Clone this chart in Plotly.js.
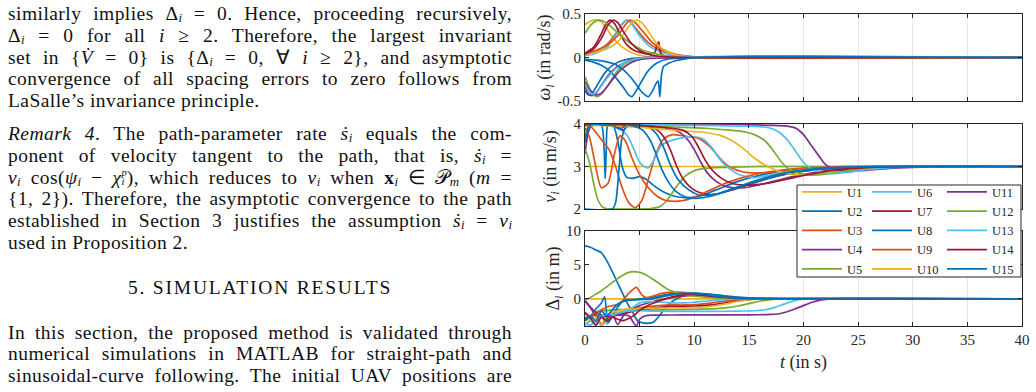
<!DOCTYPE html>
<html><head><meta charset="utf-8">
<script src="https://cdn.plot.ly/plotly-3.0.1.min.js"></script>
<style>
html,body{margin:0;padding:0;background:#fff;width:1036px;height:392px;overflow:hidden;}
#text{position:absolute;left:0;top:0;width:522px;height:392px;font-family:'Liberation Serif','Times New Roman',serif;font-size:19.5px;letter-spacing:0.45px;color:#111;}
.ln{position:absolute;left:8px;width:504px;height:21px;line-height:21px;white-space:nowrap;overflow:visible;}
.j{text-align:justify;text-align-last:justify;white-space:normal;}
.c{text-align:center;letter-spacing:1.8px;}
sub{font-size:66%;vertical-align:-0.18em;line-height:0;letter-spacing:0;}
.ss{display:inline-flex;flex-direction:column;vertical-align:8px;font-size:10.5px;line-height:9px;letter-spacing:0;}
.ss span{display:block;height:9px;}
#chart{position:absolute;left:530px;top:0;width:506px;height:392px;}
</style></head><body>
<div id="text">
<div class="ln j" style="top:3px">similarly implies Δ<sub><i>i</i></sub> = 0. Hence, proceeding recursively,</div>
<div class="ln j" style="top:25px">Δ<sub><i>i</i></sub> = 0 for all <i>i</i> ≥ 2. Therefore, the largest invariant</div>
<div class="ln j" style="top:47px">set in {<i>V&#775;</i> = 0} is {Δ<sub><i>i</i></sub> = 0, ∀ <i>i</i> ≥ 2}, and asymptotic</div>
<div class="ln j" style="top:68px">convergence of all spacing errors to zero follows from</div>
<div class="ln" style="top:90px">LaSalle’s invariance principle.</div>

<div class="ln j" style="top:123px"><i>Remark 4</i>. The path-parameter rate <i>ṡ</i><sub><i>i</i></sub> equals the com-</div>
<div class="ln j" style="top:145px">ponent of velocity tangent to the path, that is, <i>ṡ</i><sub><i>i</i></sub> =</div>
<div class="ln j" style="top:167px"><i>v</i><sub><i>i</i></sub> cos(<i>ψ</i><sub><i>i</i></sub> − <i>χ</i><span class="ss"><span><i>p</i></span><span><i>i</i></span></span>), which reduces to <i>v</i><sub><i>i</i></sub> when <b>x</b><sub><i>i</i></sub> ∈ 𝒫<sub><i>m</i></sub> (<i>m</i> =</div>
<div class="ln j" style="top:188px">{1, 2}). Therefore, the asymptotic convergence to the path</div>
<div class="ln j" style="top:210px">established in Section 3 justifies the assumption <i>ṡ</i><sub><i>i</i></sub> = <i>v</i><sub><i>i</i></sub></div>
<div class="ln" style="top:232px">used in Proposition 2.</div>

<div class="ln c" style="top:277px">5. SIMULATION RESULTS</div>

<div class="ln j" style="top:322px">In this section, the proposed method is validated through</div>
<div class="ln j" style="top:343px">numerical simulations in MATLAB for straight-path and</div>
<div class="ln j" style="top:365px">sinusoidal-curve following. The initial UAV positions are</div>
</div>
<div id="chart"></div>
<script>
// ---------- tick labels ----------
const xTickVals = [0,5,10,15,20,25,30,35,40];
const xTickText = ['0','5','10','15','20','25','30','35','40'];
const wTickVals = [-0.5,0,0.5];
const wTickText = ['-0.5','0','0.5'];
const vTickVals = [2,3,4];
const vTickText = ['2','3','4'];
const dTickVals = [0,5,10];
const dTickText = ['0','5','10'];

// ---------- units ----------
const unitNames = ['U1','U2','U3','U4','U5','U6','U7','U8','U9','U10','U11','U12','U13','U14','U15'];
const unitColors = ['#EDB120','#0072BD','#D95319','#7E2F8E','#77AC30','#4DBEEE','#A2142F',
                    '#0072BD','#D95319','#EDB120','#7E2F8E','#77AC30','#4DBEEE','#A2142F','#0072BD'];

// ---------- omega_i (rad/s) ----------
const tW1=[0,0.4,0.8,1.1,1.5,2,2.6,3.3,4.2,5.2,6.5,40];
const w1=[0.38,0.41,0.43,0.43,0.41,0.33,0.22,0.13,0.06,0.02,0,0];
const tW2=[0,0.3,0.7,1.2,1.8,2.5,3.3,4.3,5.5,40];
const w2=[-0.38,-0.43,-0.40,-0.30,-0.18,-0.09,-0.04,-0.01,0,0];
const tW3=[0,1,2,2.8,3.4,3.8,4.3,5,5.8,6.8,8,9.5,40];
const w3=[0.03,0.07,0.15,0.27,0.38,0.43,0.39,0.28,0.17,0.09,0.04,0.01,0];
const tW4=[0,0.3,0.6,1.0,1.5,2.1,2.8,3.6,4.5,5.5,40];
const w4=[-0.33,-0.42,-0.44,-0.41,-0.32,-0.21,-0.12,-0.06,-0.02,0,0];
const tW5=[0,0.4,0.8,1.1,1.5,2,2.6,3.2,4,5,6,40];
const w5=[-0.22,-0.35,-0.43,-0.45,-0.42,-0.34,-0.22,-0.12,-0.05,-0.02,0,0];
const tW6=[0,1,2,2.8,3.3,3.8,4.3,5,5.8,6.8,8,9.5,40];
const w6=[0.02,0.05,0.12,0.25,0.37,0.43,0.38,0.25,0.14,0.07,0.03,0.01,0];
const tW7=[0,0.8,1.4,1.9,2.3,2.7,3.2,3.8,4.5,5.3,6.0,6.4,6.6,6.75,6.9,7.2,8,40];
const w7=[0.05,0.12,0.25,0.38,0.43,0.39,0.27,0.15,0.08,0.05,0.04,0.06,0.15,0.18,0.06,0.02,0.01,0];
const tW8=[0,0.7,1.5,2.3,3,3.6,4.0,4.3,4.7,5.2,5.8,6.5,7.5,40];
const w8=[-0.03,-0.05,-0.09,-0.16,-0.26,-0.36,-0.43,-0.45,-0.38,-0.27,-0.15,-0.07,-0.02,0];
const tW9=[0,1,2,3,3.6,4.1,4.6,5.3,6.1,7,8.2,9.8,40];
const w9=[0.04,0.08,0.14,0.25,0.36,0.43,0.40,0.30,0.18,0.10,0.04,0.01,0];
const tW10=[0,1,2,3,3.7,4.3,4.7,5.2,5.8,6.5,7.3,8.3,9.5,40];
const w10=[0.03,0.06,0.10,0.18,0.30,0.40,0.43,0.40,0.30,0.17,0.08,0.03,0.01,0];
const tW11=[0,0.5,1.0,1.5,2.0,2.6,3.3,4.2,5.2,40];
const w11=[-0.28,-0.38,-0.43,-0.41,-0.34,-0.24,-0.14,-0.06,-0.02,0];
const tW12=[0,0.5,1.0,1.3,1.8,2.5,3.3,4.2,5.2,6.2,7.5,9,40];
const w12=[0.28,0.37,0.42,0.43,0.41,0.34,0.25,0.16,0.09,0.05,0.02,0.01,0];
const tW13=[0,0.4,0.8,1.3,2,2.8,3.6,4.5,5.5,40];
const w13=[-0.30,-0.40,-0.42,-0.36,-0.24,-0.13,-0.06,-0.02,0,0];
const tW14=[0,0.8,1.5,2.1,2.6,3.0,3.5,4.2,5,6,7,40];
const w14=[0.04,0.10,0.22,0.37,0.43,0.40,0.30,0.17,0.08,0.03,0.01,0];
const tW15=[0,1,2,2.8,3.5,4.2,4.8,5.3,5.8,6.2,6.5,6.7,6.85,7.0,7.2,7.6,8.2,9,10,40];
const w15=[-0.02,-0.03,-0.05,-0.08,-0.14,-0.23,-0.33,-0.41,-0.45,-0.38,-0.30,-0.27,-0.45,-0.20,-0.10,-0.07,-0.04,-0.02,0,0];

// ---------- v_i (m/s) ----------
const tV1=[0,40];
const v1=[3,3];
const tV2=[0,0.3,0.8,1.5,1.75,1.85,1.95,2.1,2.6,3.0,3.4,3.8,4.3,5.0,5.6,6.3,7.2,8.2,9.2,10.5,12,14,16.5,19,22,40];
const v2=[3.6,3.95,4,3.97,3.4,2.72,3.4,3.97,3.95,3.6,3.0,2.75,2.72,2.76,2.7,2.55,2.4,2.3,2.27,2.3,2.45,2.65,2.82,2.93,2.99,3];
const tV3=[0,0.5,1,1.6,2.2,2.8,3.4,4.0,4.6,5.2,5.8,6.5,7.2,8,9,10.5,11.5,12.5,13.3,14.5,16,18.5,21,24,40];
const v3=[4,3.95,3.8,3.6,3.4,3.0,2.5,2.15,2.03,2.2,2.7,3.3,3.65,3.75,3.72,3.65,3.45,3.15,2.98,2.87,2.85,2.9,2.96,2.99,3];
const tV4=[0,0.3,0.6,1,2,3,4,5,6,7,8,8.8,9.5,10.1,10.6,11.2,12,13,14.5,16.5,19,22,26,40];
const v4=[3.3,3.8,3.97,4,4,3.99,3.98,3.97,3.95,3.92,3.87,3.78,3.6,3.35,3.1,2.85,2.65,2.52,2.5,2.6,2.76,2.9,2.98,3];
const tV5=[0,0.4,0.8,1.2,1.7,2.5,4,6,6.8,7.5,8.3,9.2,10.2,11.5,13,16,40];
const v5=[3.42,3.1,2.6,2.2,2.03,2,2,2.01,2.05,2.2,2.5,2.78,2.92,2.97,2.98,3,3];
const tV6=[0,1,2,3,3.8,4.4,5,5.5,5.8,6.2,7,8,9,10,10.8,11.6,12.4,13.2,14.2,15.5,17,19,22,40];
const v6=[3.95,3.97,3.96,3.9,3.75,3.45,3.1,2.98,2.97,3.1,3.5,3.62,3.68,3.7,3.65,3.45,3.15,2.95,2.8,2.74,2.8,2.9,2.98,3];
const tV7=[0,0.5,1.5,2.5,3.2,3.5,3.8,4.5,5.5,6.5,7.2,7.8,8.4,9.0,9.8,10.8,12,13.5,15.5,18,21,25,40];
const v7=[3.95,4,4,3.98,3.9,3.85,3.93,3.97,3.95,3.88,3.7,3.4,3.0,2.7,2.48,2.36,2.35,2.45,2.62,2.8,2.92,2.99,3];
const tV8=[0,2.5,2.8,3.1,3.4,3.8,4.5,5.3,6.0,6.6,7.2,7.8,8.5,9.5,10.5,12,14,16.5,19.5,23,40];
const v8=[2,2,2.15,2.9,3.7,3.95,3.97,3.95,3.9,3.75,3.45,3.05,2.7,2.45,2.33,2.35,2.5,2.7,2.87,2.97,3];
const tV9=[0,0.4,0.9,1.5,2.1,2.7,3.2,3.7,4.3,5,5.8,6.6,7.4,8.2,9,10,11.5,13,15,17,20,24,40];
const v9=[3.9,3.7,3.1,2.5,2.6,3.3,3.72,3.6,3.2,2.8,2.5,2.3,2.2,2.18,2.2,2.28,2.45,2.62,2.78,2.88,2.96,3,3];
const tV10=[0,1,3,5,7,9,11,12.5,13.5,14.5,15.5,16.3,17,17.8,18.8,20,22,24.5,27,40];
const v10=[3.95,3.97,3.95,3.92,3.88,3.84,3.8,3.72,3.6,3.42,3.2,3.06,2.97,2.88,2.82,2.8,2.85,2.93,2.98,3];
const tV11=[0,1,3,6,10,14,17,18.5,19.3,20,20.7,21.4,22,22.6,23.5,25,27,30,40];
const v11=[3.97,4,4,4,4,3.99,3.97,3.95,3.9,3.75,3.5,3.25,3.05,2.95,2.9,2.9,2.94,2.98,3];
const tV12=[0,1,3,5,7,9,11,13,14.5,15.5,16.5,17.3,18,18.6,19.5,20.5,22,24,27,40];
const v12=[3.98,4,3.98,3.96,3.94,3.92,3.9,3.86,3.82,3.75,3.6,3.35,3.1,2.95,2.85,2.8,2.82,2.9,2.98,3];
const tV13=[0,1,3,6,9,12,14,16,17,17.8,18.6,19.3,20,20.7,21.5,22.5,24,26,29,40];
const v13=[3.97,4,3.99,3.98,3.97,3.96,3.95,3.94,3.9,3.8,3.6,3.35,3.1,2.95,2.87,2.83,2.86,2.93,2.99,3];
const tV14=[0,1,2,3,4,5,6,7,8,9,9.8,10.4,11,11.7,12.5,13.5,15,17,19.5,22.5,26,40];
const v14=[3.97,4,4,3.99,3.98,3.97,3.95,3.93,3.9,3.85,3.7,3.45,3.15,2.9,2.72,2.6,2.56,2.62,2.76,2.9,2.98,3];
const tV15=[0,0.3,0.7,1.5,2.5,3.2,3.5,3.8,4.5,5.3,6.0,6.5,7.0,7.6,8.3,9.2,10.2,11.5,13.5,16,19,23,40];
const v15=[3.55,3.9,4,3.98,3.97,3.88,3.93,3.97,3.95,3.85,3.6,3.3,2.95,2.65,2.42,2.28,2.25,2.3,2.48,2.7,2.88,2.98,3];

// ---------- Delta_i (m) ----------
const tD1=[0,40];
const d1=[0,0];
const tD2=[0,0.5,1,1.5,2,2.5,3,3.5,4,4.4,4.8,5.2,5.7,6.3,6.8,7.3,7.8,8.5,9.3,10.2,11.5,13,15,18,40];
const d2=[7.8,7.6,7.2,6.8,5.6,4.0,2.3,0.6,-1.0,-2.1,-3.2,-3.5,-3.6,-3.4,-2.5,-1.4,-0.6,0.1,0.6,0.8,0.7,0.4,0.15,0,0];
const tD3=[0,0.5,1,1.5,2,2.5,3,3.5,4,5,6,7,8,9,10,11,12,13,14,15,40];
const d3=[-2.2,-2.6,-2.0,-2.4,-2.9,-2.3,-2.1,-1.9,-1.7,-1.35,-1.1,-0.95,-0.9,-0.9,-0.85,-0.7,-0.5,-0.3,-0.1,0,0];
const tD4=[0,0.5,1,1.5,2,2.5,3,3.5,4,5,6,7,8,9,10,11,12,13,14,40];
const d4=[-0.3,-1.3,-2.6,-3.9,-2.9,-2.3,-3.8,-2.5,-1.8,-1.0,-0.5,-0.1,0.2,0.4,0.5,0.45,0.3,0.1,0,0];
const tD5=[0,0.5,1,1.5,2,2.5,3,4,5,6,8,10,12,13,14,15,16,17,18,40];
const d5=[-3.2,-2.5,-2.0,-1.8,-1.7,-1.65,-1.6,-1.55,-1.6,-1.62,-1.6,-1.55,-1.45,-1.3,-1.05,-0.7,-0.35,-0.1,0,0];
const tD6=[0,0.5,1,1.5,2,2.5,3,3.5,4,4.5,5,6,7,8,9,10,11,12,13,14,40];
const d6=[-3.6,-3.9,-3.0,-2.6,-3.7,-2.5,-2.2,-2.0,-1.6,-1.1,-0.6,-0.4,-0.5,-0.6,-0.6,-0.5,-0.35,-0.2,-0.08,0,0];
const tD7=[0,0.5,1,1.5,2,2.5,3,3.5,4,5,6,7,8,9,10,11,12,13,14,15,16,40];
const d7=[-3.2,-2.6,-2.3,-3.8,-2.8,-2.4,-2.3,-2.2,-2.0,-1.6,-1.4,-1.2,-1.1,-1.1,-1.05,-0.95,-0.8,-0.55,-0.3,-0.1,0,0];
const tD8=[0,0.5,1,1.5,1.8,2.1,2.5,3,3.5,4,4.5,5,6,7,8,9,10,11,12,13.5,15,40];
const d8=[-3.2,-2.6,-1.5,-0.6,0.3,-3.5,-2.6,-1.2,-0.3,-0.1,-0.1,0.0,0.2,0.5,0.8,0.9,0.85,0.6,0.35,0.1,0.02,0];
const tD9=[0,0.5,1,1.5,2,2.5,3,3.5,4,4.7,5.2,5.6,6.2,7,8,9,10,11,12.5,14,16,40];
const d9=[-2.8,-2.5,-2.0,-1.6,-1.2,-1.0,-0.8,-0.2,0.8,1.7,0.6,0.2,0.4,0.8,1.0,0.95,0.75,0.5,0.25,0.1,0.02,0];
const tD10=[0,0.5,1,1.5,2,2.5,3,3.5,4,5,6,8,10,11,12,13,14,15,16,40];
const d10=[-3.8,-3.0,-2.6,-3.9,-2.4,-2.0,-1.8,-1.6,-1.5,-1.45,-1.4,-1.35,-1.3,-1.2,-1.0,-0.7,-0.35,-0.1,0,0];
const tD11=[0,0.5,1,1.5,2,2.5,3,3.5,4,4.4,4.7,5,5.5,6.5,8,10,12,14,16,17,17.8,18.5,19.2,20,20.8,21.6,22.5,40];
const d11=[-0.3,-1.2,-2.0,-2.4,-2.6,-2.5,-2.4,-2.35,-2.5,-3.4,-4.0,-3.0,-2.5,-2.4,-2.38,-2.37,-2.36,-2.35,-2.34,-2.3,-2.2,-1.9,-1.5,-1.0,-0.5,-0.15,0,0];
const tD12=[0,0.5,1,1.5,2,2.5,3,3.5,4,4.5,5,5.5,6,6.5,7,7.5,8,8.5,9,10,11,12.5,14,40];
const d12=[-0.2,0.2,0.7,1.2,1.8,2.4,3.0,3.5,3.9,4.0,3.9,3.6,3.1,2.6,2.0,1.5,1.1,0.8,0.6,0.4,0.25,0.1,0.02,0];
const tD13=[0,0.5,1,1.5,2,2.5,3,3.5,4,5,6,8,10,12,14,15.5,16.5,17.3,18,18.8,19.6,20.5,40];
const d13=[-3.9,-3.3,-3.6,-2.6,-2.2,-2.4,-2.1,-1.9,-1.8,-1.75,-1.8,-1.85,-1.85,-1.85,-1.8,-1.75,-1.6,-1.3,-0.9,-0.45,-0.12,0,0];
const tD14=[0,0.5,1,1.5,2,2.5,3,3.5,4,4.5,5,6,7,8,9,10,11,12.5,14,16,40];
const d14=[-2.0,-2.8,-3.9,-2.7,-3.3,-2.7,-3.0,-3.2,-2.9,-2.4,-1.7,-0.8,-0.2,0.3,0.6,0.65,0.5,0.25,0.1,0.02,0];
const tD15=[0,0.5,1,1.5,2,2.5,3,3.5,4,5,6,7,8,9,10,11,12,14,40];
const d15=[-3.0,-2.5,-3.3,-1.8,-2.5,-1.6,-0.8,-0.4,-0.2,-0.1,-0.05,0.3,0.6,0.8,0.8,0.65,0.4,0.1,0];

const omegaT=[tW1,tW2,tW3,tW4,tW5,tW6,tW7,tW8,tW9,tW10,tW11,tW12,tW13,tW14,tW15];
const omegaY=[w1,w2,w3,w4,w5,w6,w7,w8,w9,w10,w11,w12,w13,w14,w15];
const speedT=[tV1,tV2,tV3,tV4,tV5,tV6,tV7,tV8,tV9,tV10,tV11,tV12,tV13,tV14,tV15];
const speedY=[v1,v2,v3,v4,v5,v6,v7,v8,v9,v10,v11,v12,v13,v14,v15];
const deltaT=[tD1,tD2,tD3,tD4,tD5,tD6,tD7,tD8,tD9,tD10,tD11,tD12,tD13,tD14,tD15];
const deltaY=[d1,d2,d3,d4,d5,d6,d7,d8,d9,d10,d11,d12,d13,d14,d15];

const traces=[];
function addPanel(Ts, Ys, xa, ya, withLegend){
  for(let i=0;i<unitNames.length;i++){
    const tr={x:Ts[i], y:Ys[i], xaxis:xa, yaxis:ya, type:'scatter', mode:'lines',
      name:unitNames[i], line:{color:unitColors[i], width:1.7, shape:'spline', smoothing:0.7},
      showlegend:withLegend, hoverinfo:'skip'};
    if(withLegend){ tr.legend = i<5 ? 'legend' : (i<10 ? 'legend2' : 'legend3'); }
    traces.push(tr);
  }
}
addPanel(omegaT, omegaY, 'x', 'y', false);
addPanel(speedT, speedY, 'x2', 'y2', true);
addPanel(deltaT, deltaY, 'x3', 'y3', false);

const axCol='#262626';
function xAxis(anchor, labels, title){
  const a={anchor:anchor, domain:[0,1], range:[0,40], tickvals:xTickVals, ticktext:xTickText,
    showticklabels:labels, ticks:'inside', ticklen:4, tickwidth:1, tickcolor:axCol,
    showline:true, linecolor:axCol, linewidth:1, mirror:'ticks', showgrid:true,
    gridcolor:'#e6e6e6', gridwidth:1, zeroline:false, automargin:false,
    tickfont:{size:15, color:axCol}};
  if(title) a.title={text:title, font:{size:18,color:axCol}, standoff:8};
  return a;
}
function yAxis(anchor, dom, rng, tv, tt, title, standoff){
  return {anchor:anchor, domain:dom, range:rng, tickvals:tv, ticktext:tt,
    ticks:'inside', ticklen:4, tickwidth:1, tickcolor:axCol,
    showline:true, linecolor:axCol, linewidth:1, mirror:'ticks', showgrid:false,
    zeroline:false, automargin:false, tickfont:{size:15, color:axCol},
    title:{text:title, font:{size:18,color:axCol}, standoff:standoff}};
}

const legBase={bgcolor:'rgba(0,0,0,0)', borderwidth:0, itemwidth:40, font:{size:12.5,color:axCol,family:'Liberation Serif, serif'},
  y:0.4770, yanchor:'top', xanchor:'left', orientation:'v', itemclick:false, itemdoubleclick:false};

const layout={
  width:506, height:392,
  margin:{l:55, r:14, t:14, b:66, pad:0},
  paper_bgcolor:'#ffffff', plot_bgcolor:'#ffffff',
  font:{family:'Liberation Serif, Times New Roman, serif', size:15, color:axCol},
  showlegend:true,
  xaxis: xAxis('y', false),
  yaxis: yAxis('x', [0.7212,1], [-0.5,0.5], wTickVals, wTickText, '<i>ω<sub>i</sub></i> (in rad/s)', 0),
  xaxis2: xAxis('y2', false),
  yaxis2: yAxis('x2', [0.375,0.6474], [2,4], vTickVals, vTickText, '<i>v<sub>i</sub></i> (in m/s)', 12),
  xaxis3: xAxis('y3', true, '<i>t</i> (in s)'),
  yaxis3: yAxis('x3', [0,0.3045], [-4,10], dTickVals, dTickText, 'Δ<sub><i>i</i></sub> (in m)', 1),
  legend: Object.assign({}, legBase, {x:0.4851}),
  legend2: Object.assign({}, legBase, {x:0.6453}),
  legend3: Object.assign({}, legBase, {x:0.8169}),
  shapes:[{type:'rect', xref:'paper', yref:'paper', x0:0.4851, x1:0.9977, y0:0.1571, y1:0.4519,
    fillcolor:'#ffffff', line:{color:axCol, width:1}, layer:'above'}]
};

Plotly.newPlot('chart', traces, layout, {displayModeBar:false, staticPlot:true});
</script>
</body></html>
